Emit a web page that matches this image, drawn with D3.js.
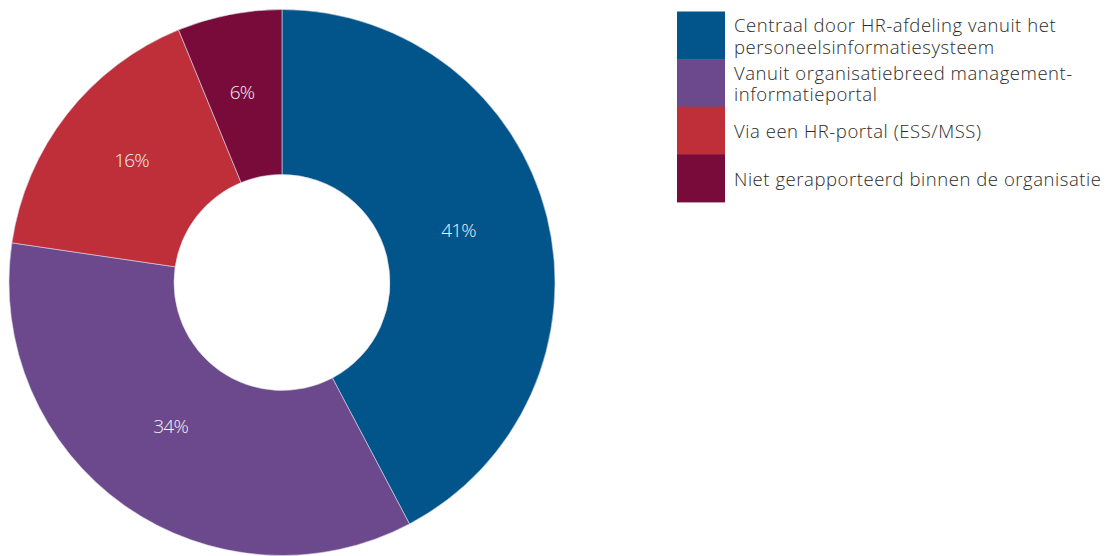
<!DOCTYPE html>
<html>
<head>
<meta charset="utf-8">
<script src="https://cdn.jsdelivr.net/npm/d3@7"></script>
<style>
  html, body { margin: 0; padding: 0; background: #ffffff; }
  svg { display: block; }
</style>
</head>
<body>
<svg id="chart" width="1111" height="556"></svg>
<script>
// Categories and their shares (%), as reported
const categories = [
  "Centraal door HR-afdeling vanuit het personeelsinformatiesysteem",
  "Vanuit organisatiebreed management-informatieportal",
  "Via een HR-portal (ESS/MSS)",
  "Niet gerapporteerd binnen de organisatie"
];
const legendLines = [
  ["Centraal door HR-afdeling vanuit het", "personeelsinformatiesysteem"],
  ["Vanuit organisatiebreed management-", "informatieportal"],
  ["Via een HR-portal (ESS/MSS)"],
  ["Niet gerapporteerd binnen de organisatie"]
];
const values = [41, 34, 16, 6];
const colors = ["#01558A", "#6C498C", "#BE2F39", "#790B3A"];

const svg = d3.select("#chart");
const cx = 282, cy = 282.5;
const outerR = 273, innerR = 108;

const pie = d3.pie().sort(null).value(d => d.value);
const arcs = pie(values.map((v, i) => ({ name: categories[i], value: v, i })));

const arc = d3.arc().innerRadius(innerR).outerRadius(outerR);
const labelArc = d3.arc().innerRadius(186).outerRadius(186);

const g = svg.append("g").attr("transform", `translate(${cx},${cy})`);

g.selectAll("path.slice")
  .data(arcs)
  .join("path")
  .attr("class", "slice")
  .attr("d", arc)
  .attr("fill", d => colors[d.data.i])
  .attr("stroke", "#d9d9e6")
  .attr("stroke-width", 0.6);

// Value labels sit near each slice's centroid, nudged slightly up-left
g.selectAll("text.pct")
  .data(arcs)
  .join("text")
  .attr("class", "pct")
  .attr("transform", d => {
    const [x, y] = labelArc.centroid(d);
    return `translate(${x - 4},${y - 8})`;
  })
  .attr("text-anchor", "middle")
  .attr("dominant-baseline", "central")
  .attr("fill", "#f2f0f5")
  .attr("font-family", "'Open Sans', sans-serif")
  .attr("font-weight", 300)
  .attr("font-size", 19)
  .attr("letter-spacing", -0.8)
  .text(d => d.data.value + "%");

// Legend
const legendX = 677, legendTop = 11.5, rowH = 47.6, swatchW = 48;
const legend = svg.append("g");
const rows = legend.selectAll("g.row")
  .data(legendLines)
  .join("g")
  .attr("class", "row")
  .attr("transform", (d, i) => `translate(${legendX},${legendTop + i * rowH})`);

rows.append("rect")
  .attr("width", swatchW)
  .attr("height", rowH + 0.5)
  .attr("fill", (d, i) => colors[i]);

const lineH = 21.5;
rows.each(function (lines) {
  const t = d3.select(this).append("text")
    .attr("x", 57)
    .attr("fill", "#2b2b2b")
    .attr("font-family", "'Open Sans', sans-serif")
    .attr("font-weight", 300)
    .attr("font-size", 18.5)
    .attr("letter-spacing", 0.55);
  const first = rowH / 2 - (lines.length - 1) * lineH / 2;
  lines.forEach((ln, k) => {
    t.append("tspan")
      .attr("x", 57)
      .attr("y", first + k * lineH)
      .attr("dominant-baseline", "central")
      .text(ln);
  });
});
</script>
</body>
</html>
